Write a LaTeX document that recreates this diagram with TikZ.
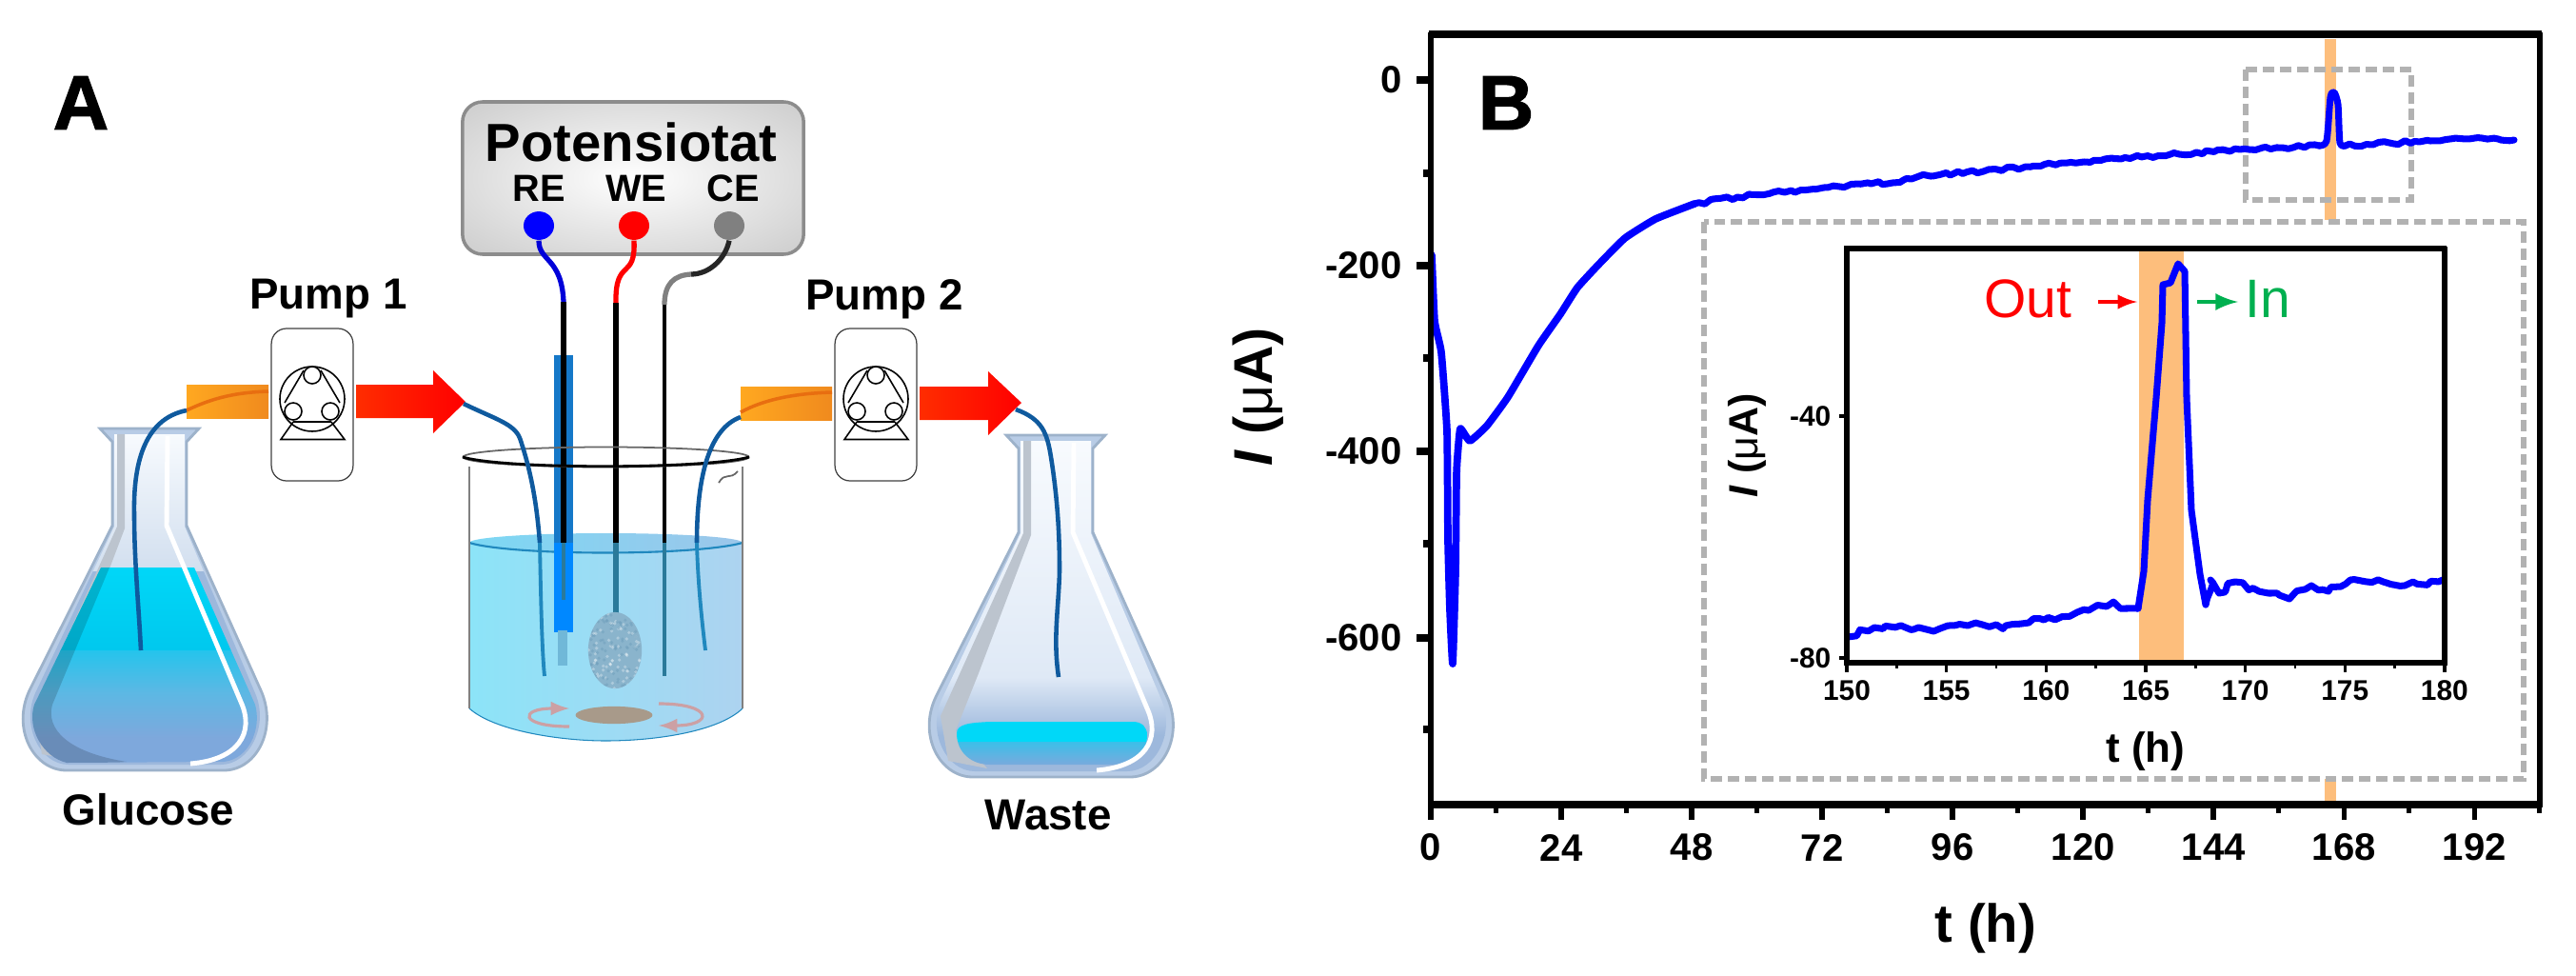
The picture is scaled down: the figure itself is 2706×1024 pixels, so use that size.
\documentclass[tikz,border=0pt]{standalone}
\usepackage{fontspec}
\setmainfont{Liberation Sans}
\newfontface\heavyface[FakeBold=1.6]{Liberation Sans Bold}
\usetikzlibrary{arrows,shapes.geometric,decorations.pathmorphing}

\newcommand{\fs}[1]{\fontsize{#1}{#1}\selectfont}

\definecolor{tubeblue}{HTML}{0F5A9E}
\definecolor{wetblue}{HTML}{2088BE}
\definecolor{darkwet}{HTML}{2A7A9A}
\definecolor{bandorange}{HTML}{FDBE7C}
\definecolor{glasswall}{HTML}{B8CCE6}
\definecolor{glassline}{HTML}{9DB2CA}
\definecolor{glassgrey}{HTML}{BCC4CE}
\definecolor{glasstop}{HTML}{F8FBFE}
\definecolor{glassmid}{HTML}{DFE9F6}
\definecolor{glasslow}{HTML}{D2DFEF}
\definecolor{glassdeep}{HTML}{9DB8DC}
\definecolor{liquidtop}{HTML}{00D8F8}
\definecolor{liquidmid}{HTML}{00C8EE}
\definecolor{liquidlow}{HTML}{25C4EC}
\definecolor{liquidpale}{HTML}{5CB8E4}
\definecolor{liquidend}{HTML}{7EA8DC}
\definecolor{waterleft}{HTML}{8CE4F8}
\definecolor{waterright}{HTML}{ADD3F0}
\definecolor{backleft}{HTML}{7CD8F4}
\definecolor{backright}{HTML}{9CC6EA}
\definecolor{refupper}{HTML}{1578C8}
\definecolor{reflower}{HTML}{0088FF}
\definecolor{reftip}{HTML}{70B8D8}
\definecolor{sponge}{HTML}{8AB4CC}
\definecolor{speck}{HTML}{6F9FBC}
\definecolor{stirgrey}{HTML}{A89A8A}
\definecolor{stirpink}{HTML}{CCA0A4}
\definecolor{sleeveleft}{HTML}{FFA820}
\definecolor{sleeveright}{HTML}{F08A1E}
\definecolor{sleeveline}{HTML}{E86E10}
\definecolor{inarrow}{HTML}{00B050}

\pgfdeclareradialshading{potshade}{\pgfpoint{0bp}{0bp}}{color(0bp)=(white); color(34bp)=(black!19); color(50bp)=(black!19)}

\tikzset{
  panel/.style={font=\heavyface\fs{23}, inner sep=0},
  pumplabel/.style={font=\bfseries\fs{13}, inner sep=0},
  portlabel/.style={font=\bfseries\fs{11.3}, inner sep=0},
  ticklabel/.style={font=\bfseries\fs{11.4}, inner sep=0},
  smalltick/.style={font=\bfseries\fs{8.5}, inner sep=0},
  pumpbox/.style={draw=black!75, line width=0.35pt, rounded corners=4.5pt, minimum width=24.4pt, minimum height=45.5pt, inner sep=0},
  terminal/.style={ellipse, minimum width=9.1pt, minimum height=8.5pt, inner sep=0},
  tube/.style={draw=tubeblue, line width=1.3pt},
  wettube/.style={draw=wetblue, line width=1.1pt},
  lead/.style={line width=1.5pt},
  dashbox/.style={draw=black!30, line width=1.6pt, dash pattern=on 3.4pt off 1.7pt},
  trace/.style={draw=blue, line width=2pt, line join=round, line cap=round},
  noisy/.style={decorate, decoration={random steps, segment length=#1, amplitude=0.55pt}},
  inoisy/.style={decorate, decoration={random steps, segment length=#1, amplitude=1pt}},
  frame/.style={draw=black, line width=1.5pt},
}

\begin{document}
\begin{tikzpicture}[x=0.01cm,y=-0.01cm]
\useasboundingbox (0,0) rectangle (2706,1024);
\pgfmathsetseed{7}

\node[panel] (panela) at (85,108) {A};
\node[panel] (panelb) at (1582,108) {B};

% flasks, glass first
\foreach \fx/\fy in {0/0,952/7}{
\begin{scope}[shift={(\fx,\fy)}]
\draw[draw=glassline, fill=glasswall, line width=0.8pt]
  (105,450) -- (209,450) -- (196,464) -- (196,552) -- (274,725) .. controls (292,765) and (270,809) .. (235,809) -- (70,809) .. controls (35,809) and (12,765) .. (31,725) -- (118,552) -- (118,464) -- cycle;
\end{scope}
}
\begin{scope}
\clip (120,456) -- (194,456) -- (194,553) -- (268,728) .. controls (283,762) and (262,803) .. (232,803) -- (72,803) .. controls (42,803) and (22,762) .. (37,728) -- (120,553) -- cycle;
\shade[top color=glasstop, bottom color=glasslow] (0,452) rectangle (300,600);
\fill[glassdeep] (0,600) rectangle (300,810);
\end{scope}
\begin{scope}[shift={(952,7)}]
\clip (120,456) -- (194,456) -- (194,553) -- (268,728) .. controls (283,762) and (262,803) .. (232,803) -- (72,803) .. controls (42,803) and (22,762) .. (37,728) -- (120,553) -- cycle;
\shade[top color=glasstop, bottom color=glassmid] (0,452) rectangle (300,704);
\shade[top color=glassmid, bottom color=glassdeep] (0,704) rectangle (300,765);
\fill[glassdeep] (0,765) rectangle (300,810);
\end{scope}
\foreach \fx/\fy in {0/0,952/7}{
\begin{scope}[shift={(\fx,\fy)}]
\fill[glassgrey] (123,456) -- (131,456) -- (131,555) -- (76,700) -- (52,760) -- (85,800) -- (44,792) -- (36,745) -- (123,553) -- cycle;
\end{scope}
}

% liquid of the glucose flask
\begin{scope}
\clip (106,596) -- (204,596) -- (268,740) .. controls (275,765) and (262,797) .. (235,800) -- (70,801) .. controls (45,795) and (28,765) .. (36,740) -- cycle;
\shade[top color=liquidtop, bottom color=liquidmid] (0,590) rectangle (300,683);
\shade[top color=liquidlow, bottom color=liquidpale] (0,683) rectangle (300,727);
\shade[top color=liquidpale, bottom color=liquidend] (0,727) rectangle (300,775);
\fill[liquidend] (0,775) rectangle (300,805);
\fill[black, opacity=0.16] (106,596) -- (115,596) -- (55,740) .. controls (48,765) and (70,790) .. (133,800) -- (60,805) -- (25,770) -- (30,740) -- cycle;
\end{scope}

% liquid of the waste flask
\begin{scope}
\clip (1005,770) .. controls (1005,760) and (1020,759) .. (1040,758) -- (1190,758) .. controls (1200,758) and (1205,764) .. (1205,772) .. controls (1205,790) and (1190,803) .. (1170,803) -- (1040,803) .. controls (1020,803) and (1005,790) .. (1005,770) -- cycle;
\fill[liquidtop] (1000,750) rectangle (1210,779);
\shade[top color=liquidlow!60!liquidpale, bottom color=liquidend] (1000,779) rectangle (1210,805);
\end{scope}

% white streak
\foreach \fx/\fy in {0/0,952/7}{
\begin{scope}[shift={(\fx,\fy)}]
\draw[white, line width=1.4pt, line join=round] (176,458) -- (175,552) -- (253,737) .. controls (268,770) and (250,798) .. (200,802);
\end{scope}
}

% beaker
\shade[left color=waterleft, right color=waterright]
  (493,570) -- (493,744) .. controls (520,768) and (590,778) .. (636,778) .. controls (690,778) and (755,768) .. (780,744) -- (780,570) -- cycle;
\shade[left color=backleft, right color=backright] (636.5,570) ellipse (143.5 and 10);
\draw[wetblue, line width=0.6pt] (493,570) .. controls (540,584) and (730,584) .. (780,570);
\draw[wetblue, line width=0.3pt] (493,744) .. controls (520,768) and (590,778) .. (636,778) .. controls (690,778) and (755,768) .. (780,744);
\draw[black!50, line width=0.5pt] (493,490) -- (493,744);
\draw[black!50, line width=0.5pt] (780,490) -- (780,744);

% stirrer
\node[ellipse, fill=stirgrey, minimum width=23pt, minimum height=5.2pt, inner sep=0] (stirbar) at (645,751) {};
\draw[stirpink, line width=0.9pt, -latex] (598,763) .. controls (545,763) and (545,744) .. (598,744);
\draw[stirpink, line width=0.9pt, -latex] (692,739) .. controls (750,739) and (750,762) .. (692,762);

% potentiostat
\node[draw=black!45, line width=1pt, rounded corners=6pt, shading=potshade, minimum width=101.9pt, minimum height=45.5pt, inner sep=0] (potbox) at (665,187) {};
\node[font=\bfseries\fs{16}, inner sep=0] (pottitle) at (663,149) {Potensiotat};
\node[portlabel] (relabel) at (566,198) {RE};
\node[portlabel] (welabel) at (668,198) {WE};
\node[portlabel] (celabel) at (770,198) {CE};
\node[terminal, fill=blue] (re) at (566,237) {};
\node[terminal, fill=red] (we) at (666,237) {};
\node[terminal, fill=black!50] (ce) at (766,237) {};

% electrodes
\coordinate (rebot) at (592,317);
\coordinate (webot) at (647,318);
\coordinate (cemid) at (726,288);
\coordinate (cebot) at (698,320);
\draw[blue!85!black, lead] (re.south) .. controls (566,275) and (590,270) .. (rebot);
\draw[red, lead] (we.south) .. controls (668,295) and (646,270) .. (webot);
\draw[black!85, lead] (ce.south) .. controls (762,272) and (745,288) .. (cemid);
\draw[black!50, lead] (cemid) .. controls (708,289) and (698,298) .. (cebot);

\fill[refupper] (582,373) rectangle (602,570);
\fill[reflower] (582,570) rectangle (602,664);
\fill[reftip] (586,662) rectangle (596,699);
\draw[black, line width=1.7pt] (rebot) -- (592,570);
\draw[darkwet, line width=1.3pt] (592,570) -- (592,630);

\draw[black, lead] (webot) -- (647,570);
\draw[darkwet, lead] (647,570) -- (647,645);
\node[ellipse, fill=sponge, minimum width=16pt, minimum height=22.8pt, inner sep=0] (wetip) at (646,683) {};
\begin{scope}
\clip (646,683) ellipse (28 and 40);
\foreach \i in {1,...,90}{
  \fill[white, opacity=0.3] ({618+rnd*56},{643+rnd*80}) circle (1.8);
  \fill[speck, opacity=0.5] ({618+rnd*56},{643+rnd*80}) circle (1.8);
}
\end{scope}

\draw[black, line width=1.2pt] (cebot) -- (698,570);
\draw[darkwet, line width=1.2pt] (698,570) -- (698,710);

% beaker rim
\draw[black!60, line width=0.5pt] (636.5,480) ellipse (150 and 10.5);
\draw[black, line width=0.8pt] (486,480) .. controls (530,493) and (740,493) .. (787,480);
\draw[black!60, line width=0.5pt] (755,507) .. controls (762,495) and (766,505) .. (775,495);

% pumps
\foreach \pc/\pn in {328/one,920/two}{
\node[pumpbox] (pump\pn) at (\pc,425) {};
\begin{scope}[shift={(\pc,419)}, line width=0.45pt]
\draw (0,0) circle (34);
\draw (0,-25) circle (9);
\draw (-20,13) circle (9);
\draw (19,13) circle (9);
\draw (-9,-30) -- (-29,4);
\draw (9,-30) -- (29,4);
\draw (-20,24) -- (20,24);
\draw (-20,24) -- (-33,42.5) -- (34,42.5) -- (20,24);
\end{scope}
}
\node[pumplabel] (pumponelabel) at (345,314) {Pump 1};
\node[pumplabel] (pumptwolabel) at (929,314) {Pump 2};

% orange sleeves and red arrows
\shade[left color=sleeveleft, right color=sleeveright] (196,404) rectangle (282,439);
\shade[left color=sleeveleft, right color=sleeveright] (778,406) rectangle (874,441);
\draw[sleeveline, line width=1pt] (196,431) .. controls (225,417) and (250,412) .. (282,411);
\draw[sleeveline, line width=1pt] (778,433) .. controls (805,418) and (840,413) .. (874,412);
\shade[left color=red!65!orange, right color=red]
  (374,404) -- (455,404) -- (455,389) -- (489,422) -- (455,455) -- (455,439) -- (374,439) -- cycle;
\shade[left color=red!65!orange, right color=red]
  (966,406) -- (1038,406) -- (1038,390) -- (1073,423) -- (1038,457) -- (1038,441) -- (966,441) -- cycle;

% tubes
\coordinate (sleeveone) at (196,431);
\coordinate (sleevetwo) at (778,438);
\coordinate (arrowone) at (487,424);
\coordinate (arrowtwo) at (1067,430);
\draw[tube] (sleeveone) .. controls (150,440) and (140,490) .. (141,540) .. controls (141,590) and (146,640) .. (148,683);
\draw[tube] (arrowone) .. controls (520,440) and (540,445) .. (546,460) .. controls (558,495) and (564,530) .. (567,570);
\draw[wettube] (567,570) .. controls (568,620) and (569,680) .. (572,710);
\draw[tube] (sleevetwo) .. controls (745,450) and (732,500) .. (732,570);
\draw[wettube] (732,570) .. controls (733,610) and (737,650) .. (741,683);
\draw[tube] (arrowtwo) .. controls (1095,440) and (1100,455) .. (1104,480) .. controls (1112,530) and (1113,570) .. (1113,600) .. controls (1112,640) and (1106,670) .. (1112,711);

\node[pumplabel] (glucose) at (156,850) {Glucose};
\node[pumplabel] (waste) at (1101,856) {Waste};

% main plot
\fill[bandorange] (2442,41) rectangle (2454,231);
\fill[bandorange] (2442,818) rectangle (2454,841);
\draw[dashbox] (2359,73) rectangle (2533,210);
\draw[dashbox] (1790,233) rectangle (2651,818);

\draw[trace, line width=2.2pt] plot[smooth, tension=0.25] coordinates {(1504,268) (1507,337) (1514,370) (1520,453) (1521,567) (1523,640) (1526,697) (1529,600) (1530,500) (1531,480) (1534,450) (1544,463) (1562,447) (1584,417) (1616,363) (1639,330) (1657,302) (1680,277) (1707,250) (1739,230) (1780,214)};
\draw[trace, noisy=1.6pt] (1780,214) -- (1825,207) -- (1916,197) -- (1998,190) -- (2016,185) -- (2098,178) -- (2189,170) -- (2280,162) -- (2353,157) -- (2436,153);
\draw[trace] plot[smooth, tension=0.4] coordinates {(2436,153) (2444,148) (2448,102) (2452,97) (2456,110) (2458,150) (2464,153)};
\draw[trace, noisy=1.6pt] (2464,153) -- (2553,148) -- (2607,145) -- (2641,147);

\draw[frame, line width=2.5pt] (1501,36) -- (2670,36);
\draw[frame, line width=2.3pt] (1501,845) -- (2670,845);
\draw[frame] (1503,34) -- (1503,848);
\draw[frame] (2668,34) -- (2668,848);

\foreach \t in {0,24,...,192}{
  \pgfmathsetmacro\tx{1503+5.71*\t}
  \draw[black, line width=1.6pt] (\tx,848) -- (\tx,861);
  \draw[black, line width=1.4pt] (\tx+68.5,848) -- (\tx+68.5,854);
  \node[ticklabel] (xt\t) at (\tx,890) {\t};
}
\foreach \v/\vy in {0/84,-200/279,-400/474,-600/670}{
  \draw[black, line width=2pt] (1488,\vy) -- (1503,\vy);
  \node[ticklabel, anchor=east] (yt\vy) at (1473,\vy) {\v};
}
\foreach \vy in {182,376,571,766}{
  \draw[black, line width=2pt] (1495,\vy) -- (1503,\vy);
}
\node[font=\bfseries\fs{16.3}, inner sep=0, rotate=90] (ylabel) at (1322,417) {\textit{I} ({\mdseries μ}A)};
\node[font=\bfseries\fs{16}, inner sep=0] (xlabel) at (2086,975) {t (h)};

% inset
\fill[bandorange] (2247,261) rectangle (2294,696);
\draw[trace, inoisy=2pt] (1941,669) -- (1969,659) -- (2010,661) -- (2067,657) -- (2107,657) -- (2147,651) -- (2182,643) -- (2216,635) -- (2246,639);
\draw[trace] (2246,639) -- (2252,600) -- (2256,525) -- (2265,418) -- (2271,339) -- (2272,299) -- (2280,297) -- (2288,277) -- (2295,285) -- (2297,418) -- (2302,536) -- (2311,603) -- (2317,635);
\draw[trace, inoisy=2pt] (2317,635) -- (2322,609) -- (2331,623) -- (2348,611) -- (2383,623) -- (2405,629) -- (2428,615) -- (2446,621) -- (2469,609) -- (2526,615) -- (2566,609);

\draw[frame] (1937,261) -- (2570,261);
\draw[frame, line width=1.9pt] (1937,696) -- (2570,696);
\draw[frame] (1940,259) -- (1940,699);
\draw[frame] (2568,259) -- (2568,699);

\foreach \t in {150,155,...,180}{
  \pgfmathsetmacro\tx{1940+20.93*(\t-150)}
  \draw[black, line width=1pt] (\tx,698) -- (\tx,706);
  \node[smalltick] (it\t) at (\tx,725) {\t};
}
\foreach \t in {152.5,157.5,...,177.5}{
  \pgfmathsetmacro\tx{1940+20.93*(\t-150)}
  \draw[black, line width=0.7pt] (\tx,698) -- (\tx,702);
}
\draw[black, line width=1pt] (1932,437) -- (1940,437);
\draw[black, line width=1pt] (1932,691) -- (1940,691);
\node[smalltick, anchor=east] (iyforty) at (1924,437) {-40};
\node[smalltick, anchor=east] (iyeighty) at (1924,691) {-80};
\node[font=\bfseries\fs{12.2}, inner sep=0, rotate=90] (iylabel) at (1835,468) {\textit{I} ({\mdseries μ}A)};
\node[font=\bfseries\fs{12.5}, inner sep=0] (ixlabel) at (2254,789) {t (h)};

\node[text=red, font=\fs{16.2}, inner sep=0] (outlabel) at (2130,314) {Out};
\node[text=inarrow, font=\fs{16.2}, inner sep=0] (inlabel) at (2382,314) {In};
\coordinate (outtip) at (2245,317);
\coordinate (intip) at (2351,317);
\draw[red, line width=1pt, -latex] (2204,317) -- (outtip);
\draw[inarrow, line width=1.3pt, -latex] (2308,317) -- (intip);

\end{tikzpicture}
\end{document}
